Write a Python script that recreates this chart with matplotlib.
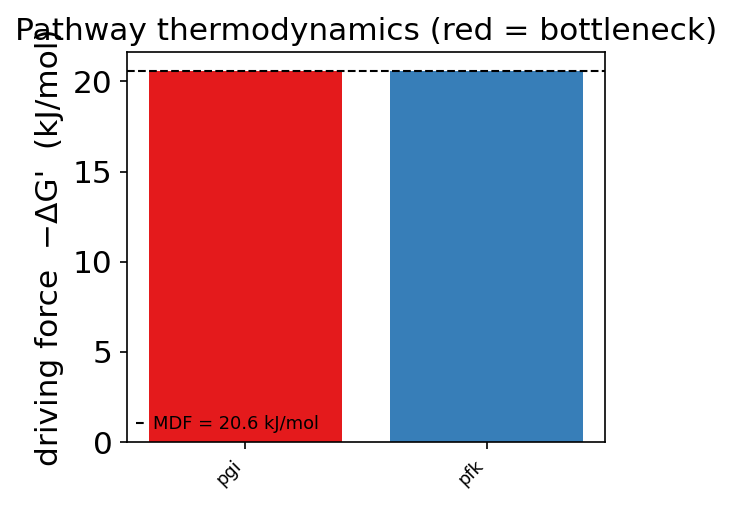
import matplotlib
matplotlib.use("Agg")
import matplotlib.pyplot as plt

reactions = ["pgi", "pfk"]
driving_force = [20.6, 20.6]
bar_colors = ["#e41a1c", "#377eb8"]
mdf = 20.6

fig = plt.figure(figsize=(4.88, 3.38), dpi=150)
ax = fig.add_axes([0.1735, 0.1282, 0.653, 0.7692])
x = list(range(len(reactions)))
ax.bar(x, driving_force, color=bar_colors, width=0.8)
ax.axhline(mdf, color="black", linestyle="--", linewidth=1, label=f"MDF = {mdf:.1f} kJ/mol")
ax.set_xticks(x)
ax.set_xticklabels(reactions, rotation=45, ha="right", fontsize=8.5)
ax.tick_params(axis="y", labelsize=15)
ax.set_ylabel("driving force  −ΔG'  (kJ/mol)", fontsize=15)
ax.set_title("Pathway thermodynamics (red = bottleneck)", fontsize=15)
ax.legend(loc="lower left", fontsize=8.6, frameon=False, handlelength=0.45,
          handletextpad=0.5, borderaxespad=0.1)
fig.savefig("out.png", dpi=150)
